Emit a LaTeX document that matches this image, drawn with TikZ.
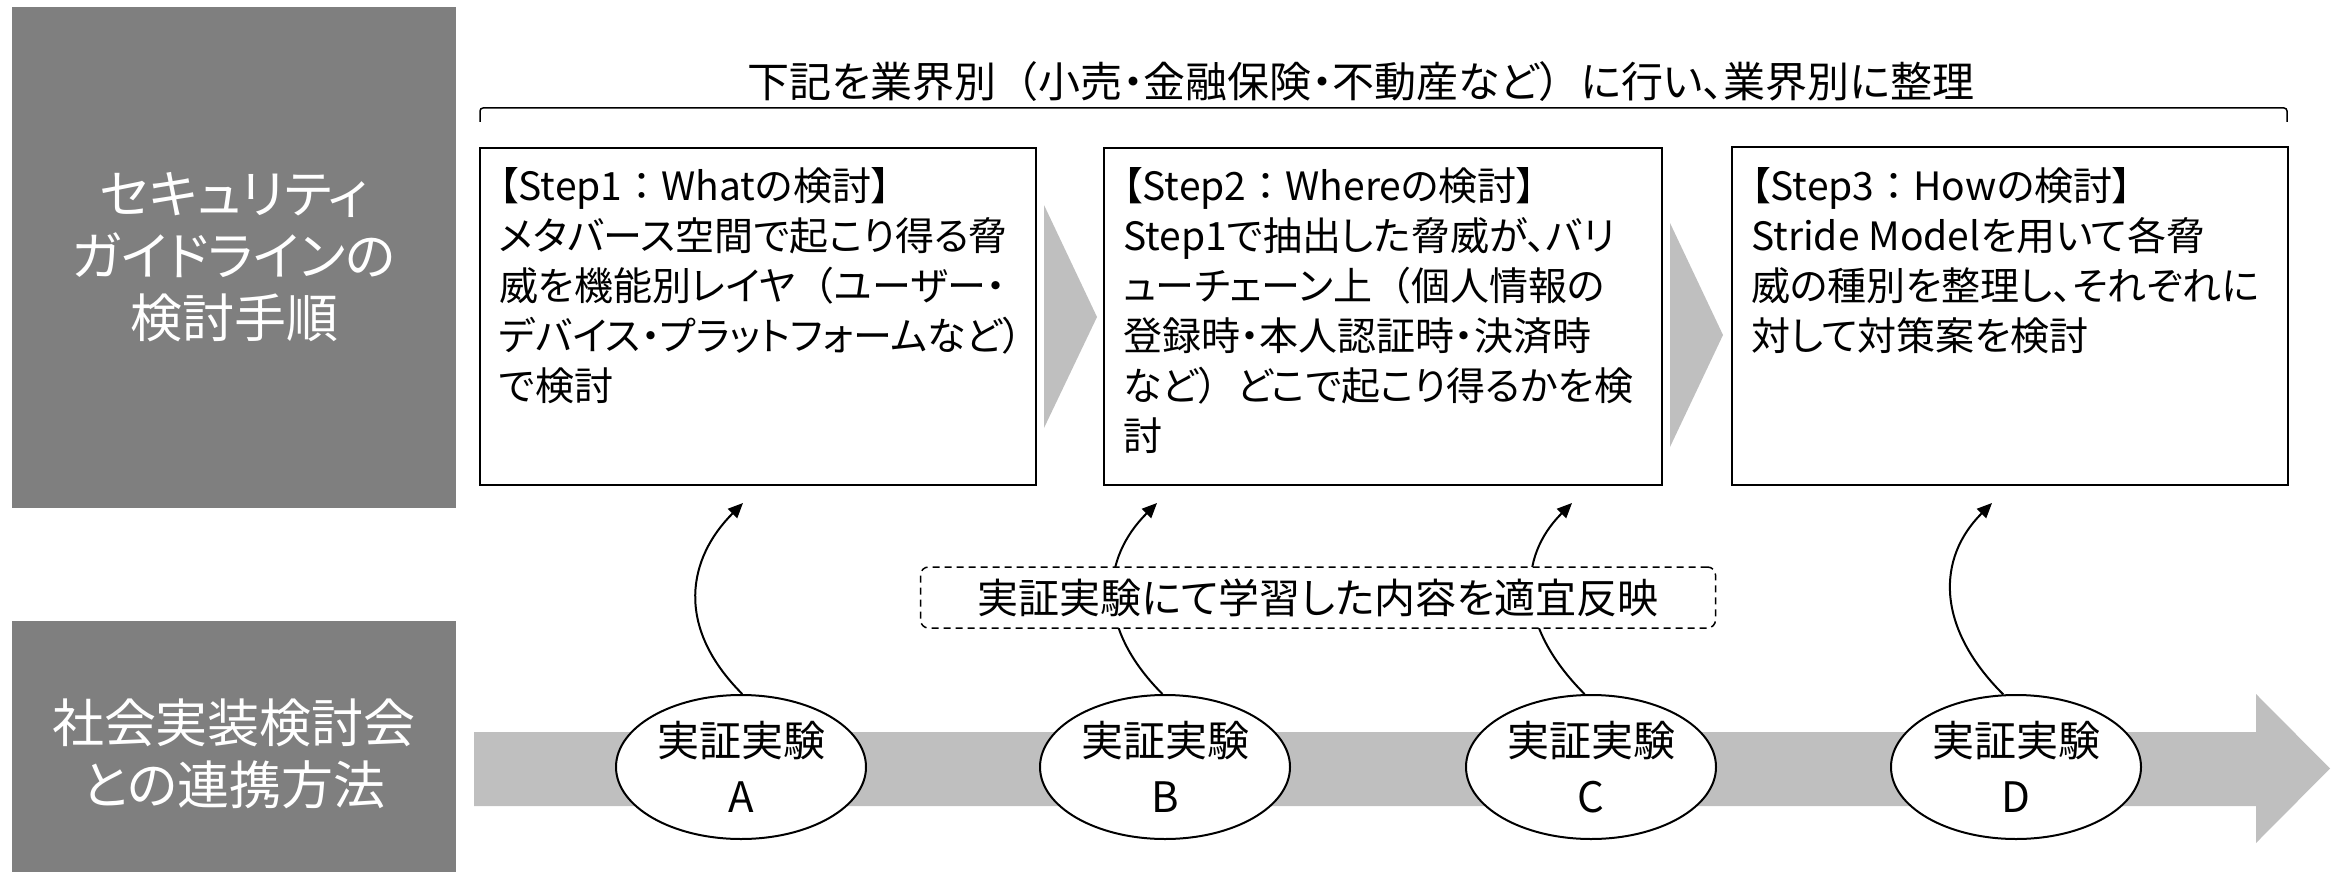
\documentclass[tikz,border=0pt]{standalone}
\usepackage{fontspec}
\setmainfont{Noto Sans CJK JP}[RawFeature=+palt]
\newfontfamily\jpfull{Noto Sans CJK JP}
\usetikzlibrary{arrows.meta,shapes.geometric}
\newcommand{\flp}{{\jpfull （}}
\newcommand{\frp}{{\jpfull ）}}
\newcommand{\fcl}{{\jpfull ：}}
\definecolor{darkbox}{HTML}{7F7F7F}
\definecolor{lightarrow}{HTML}{BFBFBF}
\begin{document}
\begin{tikzpicture}[x=1pt,y=-1pt,
  leftpanel/.style={rectangle, fill=darkbox, draw=none, text=white, align=center,
    minimum width=444, inner sep=0, font=\fontsize{52}{62}\selectfont},
  stepbox/.style={rectangle, draw=black, line width=2, fill=white,
    minimum width=556, minimum height=337, inner sep=0},
  steptext/.style={anchor=north west, align=left, inner sep=0,
    font=\fontsize{39}{50}\selectfont},
  expnode/.style={ellipse, draw=black, line width=2, fill=white, align=center,
    minimum width=250, minimum height=144, inner sep=0,
    font=\fontsize{42}{56}\selectfont},
  fb/.style={line width=2, -{Triangle[length=15pt,width=13pt]}},
  dashbox/.style={rectangle, rounded corners=8, draw=black, line width=1.5,
    dash pattern=on 7pt off 5pt, fill=white, minimum width=795, minimum height=61,
    inner sep=0, font=\fontsize{41}{50}\selectfont},
  toptext/.style={inner sep=0, font=\fontsize{42}{50}\selectfont},
  bracket/.style={line width=1.5, rounded corners=3}
]
\useasboundingbox (0,0) rectangle (2338,872);

% left panels
\node[leftpanel, minimum height=501] (p1) at (234,257.5) {セキュリティ\\ガイドラインの\\検討手順};
\node[leftpanel, minimum height=266] (p2) at (234,754) {社会実装検討会\\との連携方法};

% top label and bracket
\node[toptext] (tt) at (1361,82) {下記を業界別\flp 小売・金融保険・不動産など\frp に行い、業界別に整理};
\coordinate (bl) at (480,122);
\coordinate (br) at (2287,122);
\draw[bracket] (bl) -- ++(0,-14) -| (br);

% chevrons between steps
\fill[lightarrow] (1044,205) -- (1097,317) -- (1044,428) -- cycle;
\fill[lightarrow] (1670,223) -- (1723,335) -- (1670,447) -- cycle;

% step boxes
\node[stepbox] (s1) at (758,316.5) {};
\node[stepbox, minimum width=558] (s2) at (1383,316.5) {};
\node[stepbox] (s3) at (2010,316) {};

\node[steptext] (s1t) at (499,167) {【Step1\fcl Whatの検討】\\メタバース空間で起こり得る脅\\威を機能別レイヤ\flp ユーザー・\\デバイス・プラットフォームなど\frp\\で検討};
\node[steptext] (s2t) at (1123,167) {【Step2\fcl Whereの検討】\\Step1で抽出した脅威が、バリ\\ューチェーン上\flp 個人情報の\\登録時・本人認証時・決済時\\など\frp どこで起こり得るかを検\\討};
\node[steptext] (s3t) at (1751,167) {【Step3\fcl Howの検討】\\Stride Modelを用いて各脅\\威の種別を整理し、それぞれに\\対して対策案を検討};

% bottom timeline arrow
\fill[lightarrow] (474,732) -- (2256,732) -- (2256,694) -- (2330,768.5) -- (2256,843) -- (2256,806) -- (474,806) -- cycle;

% experiments
\node[expnode] (eA) at (741,767) {実証実験\\A};
\node[expnode] (eB) at (1165,767) {実証実験\\B};
\node[expnode] (eC) at (1591,767) {実証実験\\C};
\node[expnode] (eD) at (2016,767) {実証実験\\D};

\coordinate (tA) at (743,503);
\coordinate (tB) at (1157,503);
\coordinate (tC) at (1572,503);
\coordinate (tD) at (1992,503);

\draw[fb] (eA.89) .. controls +(-68,-68) and +(-55,55) .. (tA);
\draw[fb] (eB.92) .. controls +(-68,-68) and +(-55,55) .. (tB);
\draw[fb] (eC.95) .. controls +(-68,-68) and +(-55,55) .. (tC);
\draw[fb] (eD.100) .. controls +(-68,-68) and +(-55,55) .. (tD);

% feedback note
\node[dashbox] (lr) at (1318,597.5) {実証実験にて学習した内容を適宜反映};
\end{tikzpicture}
\end{document}
